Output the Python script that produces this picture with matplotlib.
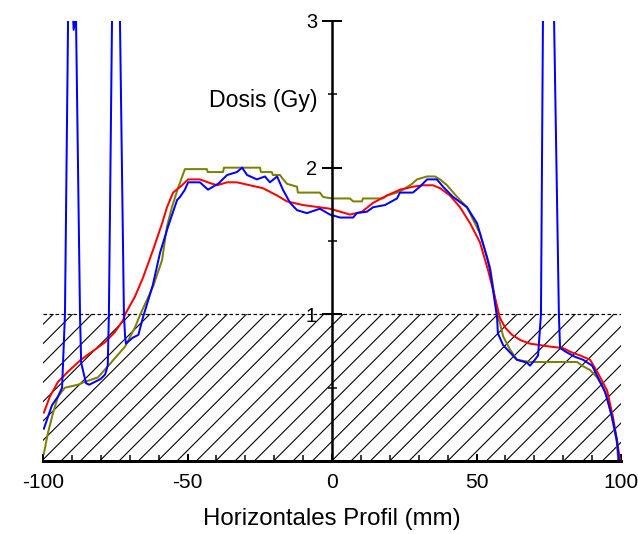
"""
Horizontal dose profile: three measured curves over a hatched 1 Gy band.
"""

import matplotlib.pyplot as plt
from matplotlib.ticker import MultipleLocator

DPI = 116


def px(v):
    # pixel size -> points at the figure dpi
    return v * 72.0 / DPI


plt.rcParams["font.family"] = ["Liberation Sans", "DejaVu Sans"]
plt.rcParams["axes.unicode_minus"] = False
plt.rcParams["hatch.linewidth"] = px(1.1)

# profile 1 (blue) - position in mm, dose in Gy
blue_x = [-99.7, -96.9, -94.8, -93.4, -92.4, -91.3, -90.4, -89.4, -88.6, -87.2, -86.8, -85.1,
          -84.0, -82.0, -80.0, -78.5, -77.6, -77.2, -76.1, -73.4, -72.0, -71.6, -71.3,
          -69.0, -67.0, -65.4, -62.0, -59.5, -56.7, -53.6, -52.6, -50.9, -49.8, -45.7,
          -42.9, -41.2, -39.4, -36.3, -32.9, -31.1, -29.4, -26.0, -23.2, -21.5, -19.0,
          -17.0, -14.5, -12.1, -8.7, -4.2, -0.7, 2.8, 7.3, 8.6, 12.1, 14.2, 18.3, 22.5,
          23.5, 28.0, 30.4, 32.9, 36.3, 38.4, 41.9, 46.7, 50.2, 53.6, 54.7, 57.1, 57.4,
          59.2, 61.6, 64.0, 67.5, 68.5, 70.2, 71.3, 72.3, 73.0, 76.8, 78.5,
          78.9, 81.3, 84.1, 86.9, 90.0, 92.0, 94.5, 96.9, 98.6, 99.3]
blue_y = [0.22, 0.38, 0.44, 0.50, 1.00, 3.05, 3.40, 2.94, 3.05, 1.00, 0.67, 0.53,
          0.52, 0.54, 0.56, 0.59, 0.65, 1.00, 3.05, 3.05, 1.00, 0.85, 0.80,
          0.84, 0.86, 0.98, 1.20, 1.42, 1.60, 1.78, 1.80, 1.85, 1.90, 1.90,
          1.85, 1.87, 1.89, 1.95, 1.97, 2.00, 1.95, 1.92, 1.94, 1.90, 1.94,
          1.85, 1.76, 1.71, 1.69, 1.72, 1.68, 1.66, 1.66, 1.69, 1.70, 1.73, 1.745, 1.79,
          1.83, 1.83, 1.87, 1.92, 1.92, 1.87, 1.80, 1.73, 1.62, 1.39, 1.30, 0.98, 0.87,
          0.79, 0.74, 0.69, 0.67, 0.65, 0.69, 0.72, 1.00, 3.05, 3.05, 1.00,
          0.77, 0.74, 0.71, 0.69, 0.65, 0.57, 0.47, 0.30, 0.14, 0.0]

# profile 2 (red)
red_x = [-99.7, -97.6, -94.8, -91.3, -86.9, -82.0, -78.5, -75.1, -72.3, -71.6, -68.2,
         -65.4, -61.9, -58.8, -57.1, -55.0, -51.9, -49.8, -45.7, -42.2, -39.8, -36.3,
         -32.9, -28.4, -23.9, -19.0, -15.6, -10.0, -0.7, 2.8, 6.2, 10.4, 14.2, 19.0,
         23.5, 28.0, 31.5, 34.9, 37.4, 40.8, 44.3, 47.8, 51.2, 54.0, 55.7, 58.1, 59.9,
         62.3, 65.1, 68.5, 72.0, 75.4, 79.9, 83.0, 85.8, 89.3, 92.0, 95.2, 97.2, 98.6,
         99.7]
red_y = [0.33, 0.44, 0.54, 0.61, 0.69, 0.76, 0.81, 0.88, 0.96, 1.00, 1.12,
         1.25, 1.44, 1.62, 1.73, 1.83, 1.88, 1.92, 1.92, 1.895, 1.88, 1.90,
         1.90, 1.88, 1.86, 1.81, 1.77, 1.745, 1.72, 1.70, 1.68, 1.70, 1.76, 1.81,
         1.85, 1.87, 1.88, 1.88, 1.86, 1.81, 1.73, 1.62, 1.49, 1.30, 1.17, 0.975, 0.91,
         0.86, 0.825, 0.80, 0.79, 0.78, 0.77, 0.74, 0.72, 0.69, 0.60, 0.48, 0.30, 0.14,
         0.0]

# profile 3 (olive)
olive_x = [-99.7, -98.3, -96.5, -94.8, -92.4, -87.9, -85.5, -81.0, -76.5, -71.6, -68.2,
           -66.1, -61.9, -58.8, -57.1, -55.4, -53.3, -50.9, -43.3, -43.0, -37.7, -37.4,
           -24.9, -24.6, -20.8, -20.5, -18.0, -17.3, -15.6, -12.1, -11.8, -4.2, -3.1,
           0.0, 6.2, 7.3, 10.4, 10.7, 17.6, 19.0, 22.5, 24.6, 27.7, 29.4, 32.9, 35.6,
           37.4, 39.8, 43.3, 46.7, 51.2, 54.7, 57.4, 58.1, 59.2, 61.6, 64.0, 68.5, 84.8,
           86.5, 89.3, 91.7, 93.8, 95.5, 97.2, 98.6, 99.0]
olive_y = [0.05, 0.19, 0.33, 0.44, 0.50, 0.52, 0.54, 0.57, 0.67, 0.78, 0.91,
           1.01, 1.19, 1.37, 1.60, 1.73, 1.86, 1.99, 1.99, 1.97, 1.97, 2.00,
           2.00, 1.97, 1.97, 1.95, 1.95, 1.93, 1.89, 1.87, 1.83, 1.83, 1.80,
           1.79, 1.79, 1.77, 1.77, 1.79, 1.79, 1.81, 1.83, 1.85, 1.89, 1.92, 1.94, 1.94,
           1.92, 1.88, 1.80, 1.73, 1.55, 1.32, 0.98, 0.94, 0.85, 0.76, 0.69, 0.675, 0.675,
           0.65, 0.62, 0.57, 0.50, 0.42, 0.26, 0.12, 0.0]

band_x = [-100, 100]
band_top = 1.0
x_ticks = [-100, -50, 0, 50, 100]
y_ticks = [1, 2, 3]

fig = plt.figure(figsize=(638 / DPI, 534 / DPI), dpi=DPI)
ax = fig.add_axes([0.0674, 0.1367, 0.906, 0.824])

ax.fill_between(band_x, 0, band_top, facecolor="none", edgecolor="black",
                hatch="//", linewidth=0)
ax.plot(band_x, [band_top, band_top], color="black", linewidth=px(1.2),
        linestyle=(0, (3, 2)))

lw = px(2.0)
ax.plot(olive_x, olive_y, color="#808000", linewidth=lw)
ax.plot(red_x, red_y, color="#ff0000", linewidth=lw)
ax.plot(blue_x, blue_y, color="#0000ff", linewidth=lw)

ax.set_xlim(-100, 100)
ax.set_ylim(0, 3)

for side in ("top", "right"):
    ax.spines[side].set_visible(False)
ax.spines["left"].set_position(("data", 0))
ax.spines["left"].set_linewidth(px(2.5))
ax.spines["bottom"].set_linewidth(px(3.0))

ax.set_xticks(x_ticks)
ax.xaxis.set_minor_locator(MultipleLocator(10))
ax.set_yticks(y_ticks)
ax.yaxis.set_minor_locator(MultipleLocator(0.5))

ax.tick_params(axis="x", which="major", direction="in", length=px(7), width=px(2),
               labelsize=px(21), pad=px(12))
ax.tick_params(axis="x", which="minor", direction="in", length=px(6), width=px(1.5))
ax.tick_params(axis="y", which="major", direction="inout", length=px(20), width=px(2),
               labelsize=px(20), pad=px(5))
ax.tick_params(axis="y", which="minor", direction="inout", length=px(9), width=px(1.5))

ax.set_xlabel("Horizontales Profil (mm)", fontsize=px(24), labelpad=px(16))
ax.text(-5, 2.46, "Dosis (Gy)", fontsize=px(23), ha="right", va="center")

fig.savefig("out.png", dpi=DPI)
